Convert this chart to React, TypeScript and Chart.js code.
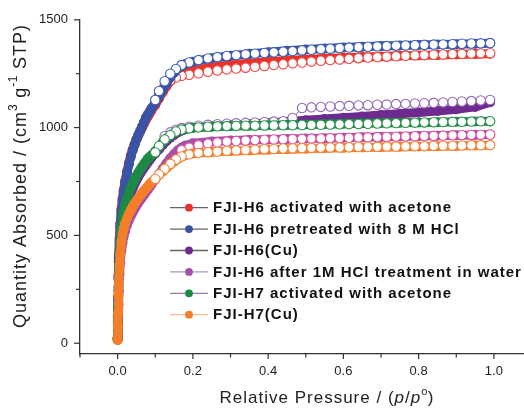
import React, { useEffect, useRef } from "react";
import { Chart, registerables } from "chart.js";

Chart.register(...registerables);

// ---------- data ----------
const seriesLabels = [
  "FJI-H6 activated with acetone",
  "FJI-H6 pretreated with 8 M HCl",
  "FJI-H6(Cu)",
  "FJI-H6 after 1M HCl treatment in water",
  "FJI-H7 activated with acetone",
  "FJI-H7(Cu)",
];

// adsorption branch relative pressures (filled symbols)
const adsP = [
  0, 0.0005, 0.001, 0.002, 0.003, 0.005, 0.007, 0.01, 0.013, 0.016, 0.02, 0.025, 0.03,
  0.035, 0.04, 0.045, 0.05, 0.055, 0.06, 0.065, 0.07, 0.075, 0.08, 0.085, 0.09, 0.1,
  0.11, 0.12, 0.13, 0.14, 0.15, 0.16, 0.17, 0.18, 0.2, 0.25, 0.3, 0.35, 0.4, 0.45, 0.5,
  0.55, 0.6, 0.65, 0.7, 0.75, 0.8, 0.85, 0.9, 0.95, 0.99,
];

// desorption branch relative pressures (open symbols)
const desP = [
  0.99, 0.965, 0.94, 0.915, 0.89, 0.865, 0.84, 0.815, 0.79, 0.765, 0.74, 0.715, 0.69,
  0.665, 0.64, 0.615, 0.59, 0.565, 0.54, 0.515, 0.49, 0.465, 0.44, 0.415, 0.39, 0.365,
  0.34, 0.315, 0.29, 0.265, 0.24, 0.215, 0.19, 0.17, 0.155, 0.14, 0.125, 0.11, 0.1,
];

const adsRed = [
  25, 130, 215, 315, 395, 485, 555, 622, 670, 710, 752, 797, 836, 870, 898, 922, 945, 964,
  982, 1000, 1018, 1035, 1050, 1065, 1080, 1105, 1135, 1165, 1192, 1215, 1232, 1243, 1250,
  1256, 1264, 1280, 1290, 1298, 1305, 1311, 1316, 1320, 1324, 1327, 1330, 1333, 1335, 1337,
  1339, 1341, 1343,
];
const desRed = [
  1345, 1344, 1343, 1342, 1341, 1339, 1338, 1336, 1335, 1333, 1331, 1329, 1327, 1325, 1322,
  1319, 1316, 1313, 1310, 1306, 1302, 1298, 1294, 1290, 1286, 1282, 1278, 1274, 1270, 1265,
  1259, 1252, 1245, 1240, 1232, 1218, 1195, 1160, 1128,
];

const adsBlue = [
  20, 120, 200, 300, 380, 470, 540, 610, 660, 700, 745, 790, 830, 865, 895, 920, 945, 965,
  985, 1005, 1025, 1045, 1060, 1075, 1090, 1115, 1145, 1175, 1205, 1232, 1255, 1273, 1286,
  1295, 1306, 1322, 1333, 1342, 1350, 1356, 1362, 1367, 1371, 1375, 1378, 1381, 1383, 1385,
  1387, 1389, 1391,
];
const desBlue = [
  1392, 1391, 1390, 1389, 1387, 1386, 1385, 1384, 1382, 1381, 1380, 1378, 1377, 1375, 1373,
  1371, 1369, 1366, 1364, 1361, 1358, 1355, 1352, 1349, 1346, 1343, 1340, 1336, 1332, 1327,
  1321, 1313, 1302, 1290, 1272, 1250, 1215, 1170, 1128,
];

const adsPurple = [
  20, 90, 160, 245, 310, 400, 455, 515, 555, 585, 615, 645, 672, 697, 718, 738, 756, 772,
  787, 801, 814, 826, 838, 850, 861, 880, 900, 920, 938, 953, 966, 977, 986, 992, 999, 1006,
  1011, 1016, 1021, 1027, 1034, 1040, 1046, 1052, 1058, 1064, 1070, 1077, 1085, 1096, 1118,
];
const desPurple = [
  1128, 1126, 1123, 1121, 1119, 1117, 1115, 1113, 1112, 1110, 1109, 1107, 1106, 1104, 1103,
  1101, 1100, 1098, 1096, 1094, 1091, 1045, 1030, 1028, 1026, 1024, 1022, 1020, 1018, 1016,
  1013, 1009, 1004, 998, 990, 978, 960, null, null,
];

const adsPink = [
  15, 60, 110, 180, 240, 320, 375, 430, 465, 495, 520, 548, 570, 590, 607, 623, 638, 651,
  664, 676, 688, 700, 712, 724, 736, 760, 785, 810, 835, 858, 878, 895, 908, 917, 927, 936,
  940, 943, 945, 947, 949, 951, 953, 955, 957, 959, 961, 962, 964, 966, 968,
];
const desPink = [
  968, 967, 966, 965, 964, 963, 962, 961, 960, 959, 958, 957, 956, 955, 954, 953, 952, 951,
  950, 949, 948, 947, 946, 945, 944, 942, 940, 938, 935, 931, 926, 918, 907, 895, null, null,
  null, null, null,
];

const adsGreen = [
  20, 100, 170, 260, 330, 420, 480, 540, 580, 610, 640, 672, 698, 720, 740, 758, 775, 790,
  805, 818, 831, 843, 855, 863, 872, 890, 912, 933, 950, 964, 975, 984, 990, 994, 999, 1004,
  1007, 1009, 1011, 1012, 1014, 1016, 1018, 1020, 1021, 1023, 1024, 1025, 1027, 1028, 1029,
];
const desGreen = [
  1030, 1029, 1028, 1027, 1027, 1026, 1025, 1024, 1023, 1022, 1021, 1020, 1019, 1018, 1017,
  1016, 1015, 1014, 1013, 1012, 1012, 1011, 1011, 1010, 1010, 1009, 1009, 1008, 1007, 1006,
  1004, 1001, 997, 991, 982, 965, 945, 915, 885,
];

const adsOrange = [
  15, 80, 140, 220, 280, 360, 415, 470, 505, 530, 555, 580, 600, 618, 634, 648, 661, 673,
  685, 696, 707, 717, 727, 737, 746, 762, 780, 797, 813, 828, 842, 855, 865, 872, 880, 887,
  891, 894, 897, 900, 902, 904, 906, 908, 909, 911, 912, 914, 915, 917, 918,
];
const desOrange = [
  919, 918, 918, 917, 916, 916, 915, 914, 914, 913, 912, 912, 911, 910, 910, 909, 908, 908,
  907, 906, 905, 904, 903, 901, 900, 898, 896, 894, 892, 889, 886, 882, 876, 866, 852, 832,
  808, 783, 762,
];

const xTicks = [-0.1, 0, 0.1, 0.2, 0.3, 0.4, 0.5, 0.6, 0.7, 0.8, 0.9, 1.0];
const xTickLabels = ["0.0", "0.2", "0.4", "0.6", "0.8", "1.0"];
const yTicks = [0, 250, 500, 750, 1000, 1250, 1500];
const yTickLabels = ["0", "500", "1000", "1500"];

// ---------- styles ----------
const fillColors = ["#e8322b", "#3a53a4", "#6e2a8e", "#a651a8", "#1c8a44", "#f57f29"];
const openColors = ["#ee4a44", "#3d5fb8", "#9266b2", "#dc4f9e", "#2f9352", "#f6843a"];
const legendLineColors = ["#666666", "#666666", "#666666", "#a69ac6", "#9b78a6", "#f8bb9a"];
const FONT = "'Liberation Sans', Arial, sans-serif";

const adsSets = [adsRed, adsBlue, adsPurple, adsPink, adsGreen, adsOrange];
const desSets = [desRed, desBlue, desPurple, desPink, desGreen, desOrange];

function pts(xs: number[], ys: (number | null)[]) {
  const out: { x: number; y: number }[] = [];
  xs.forEach((x, i) => {
    const y = ys[i];
    if (y !== null && y !== undefined) out.push({ x, y });
  });
  return out;
}

type Seg = { t: string; italic?: boolean; sup?: boolean; bold?: boolean };

// draws text char by char with extra letter spacing; align: "center" or "left"
function drawRich(
  ctx: CanvasRenderingContext2D,
  segs: Seg[],
  cx: number,
  cy: number,
  size: number,
  spacing: number,
  rotate: boolean,
  align: "center" | "left",
  color: string
) {
  const fontFor = (s: Seg) =>
    `${s.italic ? "italic " : ""}${s.bold ? "bold " : ""}${s.sup ? Math.round(size * 0.65) : size}px ${FONT}`;
  const chars: { c: string; f: string; w: number; sup: boolean }[] = [];
  let total = 0;
  segs.forEach((s) => {
    ctx.font = fontFor(s);
    for (const c of s.t) {
      const w = ctx.measureText(c).width + (s.sup ? spacing * 0.5 : spacing);
      chars.push({ c, f: ctx.font, w, sup: !!s.sup });
      total += w;
    }
  });
  ctx.save();
  ctx.translate(cx, cy);
  if (rotate) ctx.rotate(-Math.PI / 2);
  ctx.fillStyle = color;
  ctx.textBaseline = "middle";
  ctx.textAlign = "left";
  let x = align === "center" ? -total / 2 : 0;
  chars.forEach((ch) => {
    ctx.font = ch.f;
    ctx.fillText(ch.c, x, ch.sup ? -size * 0.38 : 0);
    x += ch.w;
  });
  ctx.restore();
}

const decorPlugin = {
  id: "decor",
  afterDraw(chart: any) {
    const ctx: CanvasRenderingContext2D = chart.ctx;
    const area = chart.chartArea;
    const xs = chart.scales.x;
    const ys = chart.scales.y;
    ctx.save();
    ctx.strokeStyle = "#333";
    ctx.lineWidth = 1.2;
    // x tick marks
    xTicks.forEach((v) => {
      const px = xs.getPixelForValue(v);
      const major = xTickLabels.includes(v.toFixed(1));
      const len = major ? 5 : 3.5;
      ctx.beginPath();
      ctx.moveTo(px, area.bottom);
      ctx.lineTo(px, area.bottom + len);
      ctx.stroke();
    });
    // y tick marks
    yTicks.forEach((v) => {
      const py = ys.getPixelForValue(v);
      const major = yTickLabels.includes(String(v));
      const len = major ? 6 : 4;
      ctx.beginPath();
      ctx.moveTo(area.left - len, py);
      ctx.lineTo(area.left, py);
      ctx.stroke();
    });
    ctx.restore();

    // legend
    ctx.save();
    const y0 = 207.7;
    const dy = 21.4;
    seriesLabels.forEach((label, i) => {
      const y = y0 + i * dy;
      ctx.strokeStyle = legendLineColors[i];
      ctx.lineWidth = 1.3;
      ctx.beginPath();
      ctx.moveTo(170, y);
      ctx.lineTo(208, y);
      ctx.stroke();
      ctx.fillStyle = fillColors[i];
      ctx.beginPath();
      ctx.arc(189, y, 3.9, 0, Math.PI * 2);
      ctx.fill();
      drawRich(ctx, [{ t: label, bold: true }], 213, y + 0.5, 15, 1, false, "left", "#111");
    });
    ctx.restore();

    // axis titles
    drawRich(
      ctx,
      [
        { t: "Quantity Absorbed / (cm" },
        { t: "3", sup: true },
        { t: " g" },
        { t: "-1", sup: true },
        { t: " STP)" },
      ],
      21,
      176,
      18,
      1,
      true,
      "center",
      "#222"
    );
    drawRich(
      ctx,
      [
        { t: "Relative Pressure / (" },
        { t: "p", italic: true },
        { t: "/" },
        { t: "p", italic: true },
        { t: "o", sup: true },
        { t: ")" },
      ],
      327,
      398,
      17,
      1,
      false,
      "center",
      "#222"
    );
  },
};

export default function App() {
  const ref = useRef<HTMLCanvasElement | null>(null);

  useEffect(() => {
    if (!ref.current) return;
    const drawOrder: any[] = [];
    for (let i = 0; i < seriesLabels.length; i++) {
      drawOrder.push({
        label: seriesLabels[i] + " (ads)",
        data: pts(adsP, adsSets[i]),
        showLine: true,
        borderColor: fillColors[i],
        backgroundColor: fillColors[i],
        borderWidth: 9,
        borderCapStyle: "round",
        borderJoinStyle: "round",
        pointRadius: 5,
        pointBorderWidth: 0,
        pointBackgroundColor: fillColors[i],
        tension: 0,
      });
      drawOrder.push({
        label: seriesLabels[i] + " (des)",
        data: pts(desP, desSets[i]),
        showLine: true,
        borderColor: openColors[i],
        backgroundColor: "#ffffff",
        borderWidth: 1,
        pointRadius: 4.7,
        pointBorderWidth: 1.1,
        pointBorderColor: openColors[i],
        pointBackgroundColor: "#ffffff",
        tension: 0,
      });
    }
    // Chart.js paints index 0 last -> reverse so the last series ends on top
    const datasets = drawOrder.slice().reverse();

    const tickFont = { family: FONT, size: 13 };
    const chart = new Chart(ref.current, {
      type: "scatter",
      data: { datasets },
      options: {
        animation: false,
        responsive: true,
        maintainAspectRatio: false,
        layout: { autoPadding: false, padding: { top: 18, left: 0, right: 0, bottom: 0 } },
        plugins: {
          legend: { display: false },
          tooltip: { enabled: false },
        },
        scales: {
          x: {
            type: "linear",
            min: -0.1,
            max: 1.08,
            grid: { display: false, drawTicks: false },
            border: { display: true, color: "#333", width: 1.3 },
            afterBuildTicks: (s: any) => {
              s.ticks = xTicks.map((v) => ({ value: v }));
            },
            afterFit: (s: any) => {
              s.height = 56;
            },
            ticks: {
              padding: 10,
              color: "#222",
              font: tickFont,
              autoSkip: false,
              maxRotation: 0,
              callback: (v: any) => {
                const t = Number(v).toFixed(1);
                return xTickLabels.includes(t) ? t : "";
              },
            },
          },
          y: {
            type: "linear",
            min: -50,
            max: 1500,
            grid: { display: false, drawTicks: false },
            border: { display: true, color: "#333", width: 1.3 },
            afterBuildTicks: (s: any) => {
              s.ticks = yTicks.map((v) => ({ value: v }));
            },
            afterFit: (s: any) => {
              s.width = 80;
            },
            ticks: {
              padding: 12,
              color: "#222",
              font: tickFont,
              autoSkip: false,
              callback: (v: any) => {
                const t = String(Math.round(Number(v)));
                return yTickLabels.includes(t) ? t : "";
              },
            },
          },
        },
      } as any,
      plugins: [decorPlugin],
    });
    return () => chart.destroy();
  }, []);

  return (
    <div
      style={{
        position: "absolute",
        left: 0,
        top: 0,
        width: 524,
        height: 410,
        background: "#fff",
      }}
    >
      <canvas ref={ref} />
    </div>
  );
}
